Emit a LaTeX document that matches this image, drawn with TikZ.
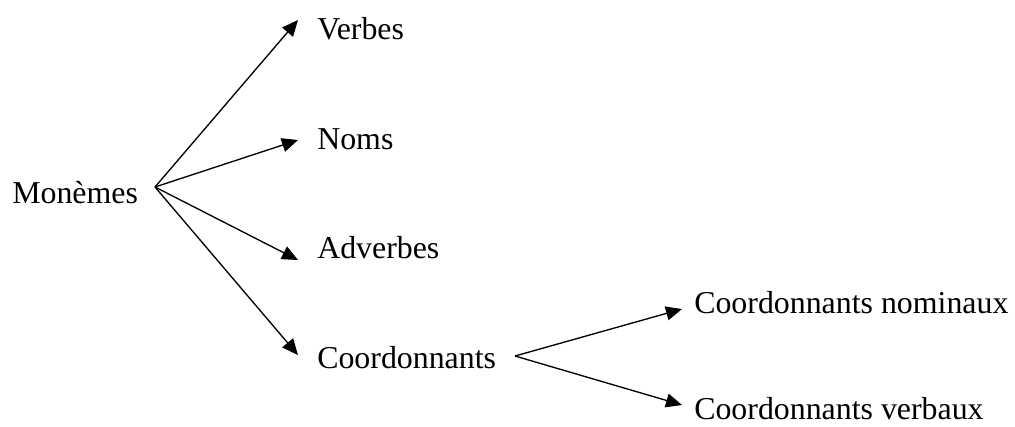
\documentclass[tikz,border=0pt]{standalone}
\usepackage{fontspec}
\setmainfont{Liberation Serif}
\usetikzlibrary{arrows.meta}
\tikzset{
  lbl/.style={anchor=base west, inner sep=0pt, font=\fontsize{23.9}{28}\selectfont},
  arr/.style={line width=1pt, -{Triangle[length=12pt,width=10.5pt]}}
}
\begin{document}
\begin{tikzpicture}[x=0.75pt,y=-0.75pt]
\useasboundingbox (0,0) rectangle (1015,426);
\node[lbl] (mon) at (12,203) {Monèmes};
\node[lbl] (ver) at (317,39) {Verbes};
\node[lbl] (nom) at (317,149) {Noms};
\node[lbl] (adv) at (317,258) {Adverbes};
\node[lbl] (coo) at (317,368) {Coordonnants};
\node[lbl] (cnom) at (694,313) {Coordonnants nominaux};
\node[lbl] (cver) at (694,419) {Coordonnants verbaux};
\coordinate (m0) at (155,187);
\coordinate (tver) at (298,20);
\coordinate (tnom) at (298,140);
\coordinate (tadv) at (298,260);
\coordinate (tcoo) at (298,355);
\coordinate (c0) at (515,356);
\coordinate (tcnom) at (682,309);
\coordinate (tcver) at (682,405);
\draw[arr] (m0) -- (tver);
\draw[arr] (m0) -- (tnom);
\draw[arr] (m0) -- (tadv);
\draw[arr] (m0) -- (tcoo);
\draw[arr] (c0) -- (tcnom);
\draw[arr] (c0) -- (tcver);
\end{tikzpicture}
\end{document}
